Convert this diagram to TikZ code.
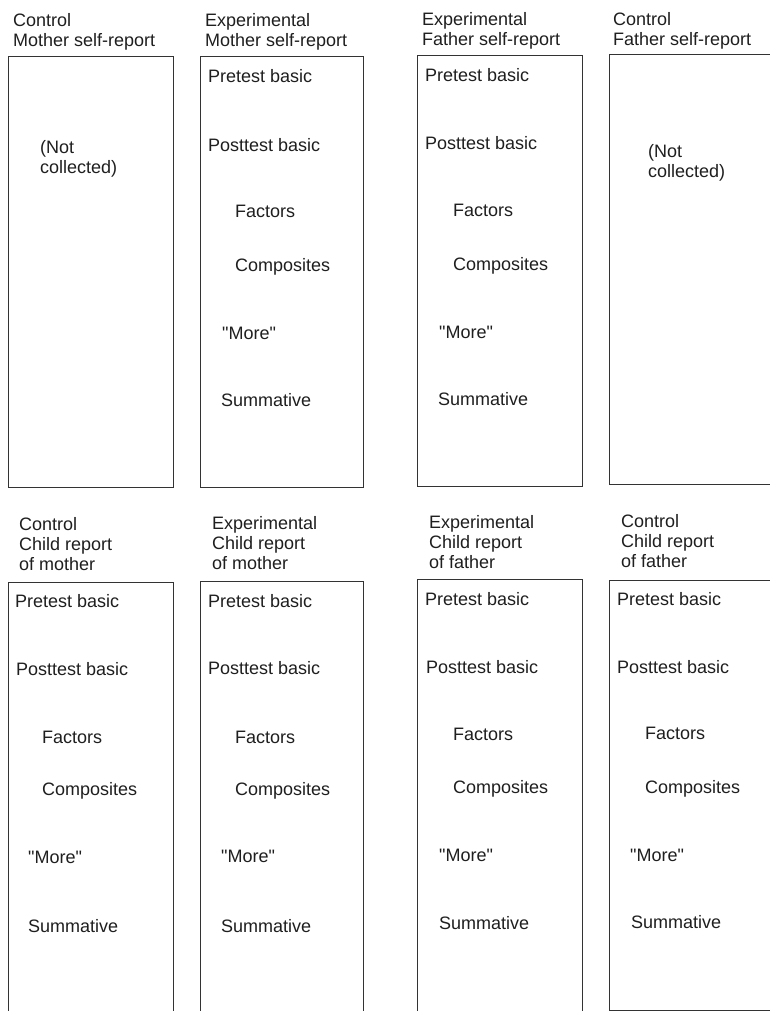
\documentclass[tikz,border=0pt]{standalone}
\usepackage{fontspec}
\setmainfont{Liberation Sans}[Ligatures=TeXOff]
\begin{document}
\begin{tikzpicture}[x=1pt,y=-1pt,
  panel/.style={draw=black!80, line width=1.2pt, rectangle, inner sep=0pt, anchor=north west},
  lbl/.style={anchor=base west, inner sep=0pt, align=left, text=black!88,
    font=\fontsize{18}{20}\selectfont}]
\useasboundingbox (0,0) rectangle (770,1011);
\clip (0,0) rectangle (770,1011);
\fill[white] (0,0) rectangle (770,1011);
% ---------- top row panels ----------
\node[panel, minimum width=165, minimum height=431] (b1) at (8,56) {};
\node[panel, minimum width=163, minimum height=431] (b2) at (200,56) {};
\node[panel, minimum width=165, minimum height=431] (b3) at (417,55) {};
\node[panel, minimum width=200, minimum height=430] (b4) at (609,54) {};
% ---------- bottom row panels ----------
\node[panel, minimum width=165, minimum height=445] (c1) at (8,582) {};
\node[panel, minimum width=163, minimum height=445] (c2) at (200,581) {};
\node[panel, minimum width=165, minimum height=445] (c3) at (417,579) {};
\node[panel, minimum width=200, minimum height=429.5] (c4) at (609,580) {};
% ---------- top titles (anchor = baseline of last line) ----------
\node[lbl] (t1) at (13,46.5) {Control\\Mother self-report};
\node[lbl] (t2) at (205,46.5) {Experimental\\Mother self-report};
\node[lbl] (t3) at (422,46) {Experimental\\Father self-report};
\node[lbl] (t4) at (613,46) {Control\\Father self-report};
% ---------- bottom titles ----------
\node[lbl] (u1) at (19,570.5) {Control\\Child report\\of mother};
\node[lbl] (u2) at (212,569) {Experimental\\Child report\\of mother};
\node[lbl] (u3) at (429,568) {Experimental\\Child report\\of father};
\node[lbl] (u4) at (621,567.5) {Control\\Child report\\of father};
% ---------- top contents ----------
\node[lbl] (b1nc) at (40,173.5) {(Not\\collected)};
\node[lbl] (b2a) at (208,83) {Pretest basic};
\node[lbl] (b2b) at (208,152) {Posttest basic};
\node[lbl] (b2c) at (235,217) {Factors};
\node[lbl] (b2d) at (235,271) {Composites};
\node[lbl] (b2e) at (222,339) {"More"};
\node[lbl] (b2f) at (221,406) {Summative};
\node[lbl] (b3a) at (425,82) {Pretest basic};
\node[lbl] (b3b) at (425,150) {Posttest basic};
\node[lbl] (b3c) at (453,216) {Factors};
\node[lbl] (b3d) at (453,270) {Composites};
\node[lbl] (b3e) at (439,338) {"More"};
\node[lbl] (b3f) at (438,405) {Summative};
\node[lbl] (b4nc) at (648,178) {(Not\\collected)};
% ---------- bottom contents ----------
\node[lbl] (c1a) at (15,607) {Pretest basic};
\node[lbl] (c1b) at (16,675) {Posttest basic};
\node[lbl] (c1c) at (42,743) {Factors};
\node[lbl] (c1d) at (42,795) {Composites};
\node[lbl] (c1e) at (28,863) {"More"};
\node[lbl] (c1f) at (28,932) {Summative};
\node[lbl] (c2a) at (208,607) {Pretest basic};
\node[lbl] (c2b) at (208,674) {Posttest basic};
\node[lbl] (c2c) at (235,743) {Factors};
\node[lbl] (c2d) at (235,795) {Composites};
\node[lbl] (c2e) at (221,862) {"More"};
\node[lbl] (c2f) at (221,932) {Summative};
\node[lbl] (c3a) at (425,605) {Pretest basic};
\node[lbl] (c3b) at (426,673) {Posttest basic};
\node[lbl] (c3c) at (453,740) {Factors};
\node[lbl] (c3d) at (453,793) {Composites};
\node[lbl] (c3e) at (439,861) {"More"};
\node[lbl] (c3f) at (439,929) {Summative};
\node[lbl] (c4a) at (617,605) {Pretest basic};
\node[lbl] (c4b) at (617,673) {Posttest basic};
\node[lbl] (c4c) at (645,739) {Factors};
\node[lbl] (c4d) at (645,793) {Composites};
\node[lbl] (c4e) at (630,861) {"More"};
\node[lbl] (c4f) at (631,928) {Summative};
\end{tikzpicture}
\end{document}
